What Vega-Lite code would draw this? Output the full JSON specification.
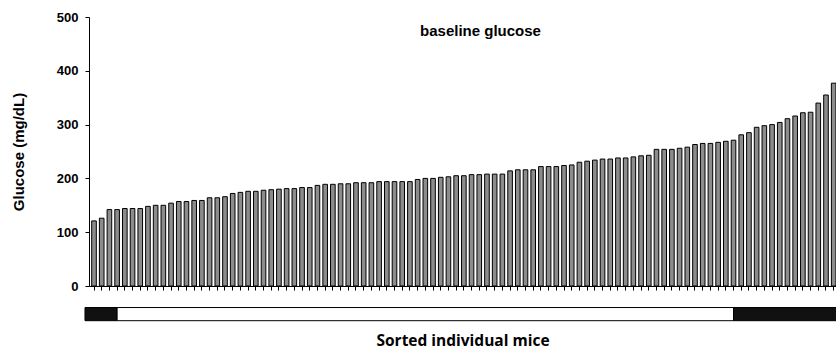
{
  "$schema": "https://vega.github.io/schema/vega-lite/v6.json",
  "autosize": {"type": "none"},
  "padding": {"left": 89, "top": 17, "right": 0, "bottom": 65},
  "width": 747,
  "height": 269,
  "title": {"text": "baseline glucose", "anchor": "middle", "offset": -28, "dx": 18, "fontSize": 15, "font": "Liberation Sans", "fontWeight": "bold", "color": "#000000"},
  "config": {
    "view": {"stroke": null},
    "axis": {"domainColor": "#000000", "tickColor": "#000000", "labelColor": "#000000", "titleColor": "#000000", "grid": false}
  },
  "layer": [
    {
      "data": {"values": [
        {"mouse": 1, "glucose": 121}, {"mouse": 2, "glucose": 126}, {"mouse": 3, "glucose": 142}, {"mouse": 4, "glucose": 142},
        {"mouse": 5, "glucose": 144}, {"mouse": 6, "glucose": 144}, {"mouse": 7, "glucose": 144}, {"mouse": 8, "glucose": 148},
        {"mouse": 9, "glucose": 150}, {"mouse": 10, "glucose": 150}, {"mouse": 11, "glucose": 154}, {"mouse": 12, "glucose": 157},
        {"mouse": 13, "glucose": 157}, {"mouse": 14, "glucose": 159}, {"mouse": 15, "glucose": 159}, {"mouse": 16, "glucose": 164},
        {"mouse": 17, "glucose": 164}, {"mouse": 18, "glucose": 166}, {"mouse": 19, "glucose": 172}, {"mouse": 20, "glucose": 174},
        {"mouse": 21, "glucose": 176}, {"mouse": 22, "glucose": 176}, {"mouse": 23, "glucose": 178}, {"mouse": 24, "glucose": 179},
        {"mouse": 25, "glucose": 180}, {"mouse": 26, "glucose": 181}, {"mouse": 27, "glucose": 181}, {"mouse": 28, "glucose": 183},
        {"mouse": 29, "glucose": 183}, {"mouse": 30, "glucose": 187}, {"mouse": 31, "glucose": 189}, {"mouse": 32, "glucose": 189},
        {"mouse": 33, "glucose": 190}, {"mouse": 34, "glucose": 190}, {"mouse": 35, "glucose": 192}, {"mouse": 36, "glucose": 192},
        {"mouse": 37, "glucose": 192}, {"mouse": 38, "glucose": 194}, {"mouse": 39, "glucose": 194}, {"mouse": 40, "glucose": 194},
        {"mouse": 41, "glucose": 194}, {"mouse": 42, "glucose": 194}, {"mouse": 43, "glucose": 198}, {"mouse": 44, "glucose": 200},
        {"mouse": 45, "glucose": 200}, {"mouse": 46, "glucose": 202}, {"mouse": 47, "glucose": 203}, {"mouse": 48, "glucose": 205},
        {"mouse": 49, "glucose": 205}, {"mouse": 50, "glucose": 207}, {"mouse": 51, "glucose": 207}, {"mouse": 52, "glucose": 208},
        {"mouse": 53, "glucose": 208}, {"mouse": 54, "glucose": 208}, {"mouse": 55, "glucose": 214}, {"mouse": 56, "glucose": 216},
        {"mouse": 57, "glucose": 216}, {"mouse": 58, "glucose": 216}, {"mouse": 59, "glucose": 222}, {"mouse": 60, "glucose": 222},
        {"mouse": 61, "glucose": 222}, {"mouse": 62, "glucose": 224}, {"mouse": 63, "glucose": 225}, {"mouse": 64, "glucose": 230},
        {"mouse": 65, "glucose": 232}, {"mouse": 66, "glucose": 234}, {"mouse": 67, "glucose": 236}, {"mouse": 68, "glucose": 236},
        {"mouse": 69, "glucose": 238}, {"mouse": 70, "glucose": 238}, {"mouse": 71, "glucose": 240}, {"mouse": 72, "glucose": 242},
        {"mouse": 73, "glucose": 243}, {"mouse": 74, "glucose": 254}, {"mouse": 75, "glucose": 254}, {"mouse": 76, "glucose": 254},
        {"mouse": 77, "glucose": 256}, {"mouse": 78, "glucose": 258}, {"mouse": 79, "glucose": 263}, {"mouse": 80, "glucose": 265},
        {"mouse": 81, "glucose": 265}, {"mouse": 82, "glucose": 267}, {"mouse": 83, "glucose": 269}, {"mouse": 84, "glucose": 271},
        {"mouse": 85, "glucose": 281}, {"mouse": 86, "glucose": 285}, {"mouse": 87, "glucose": 295}, {"mouse": 88, "glucose": 298},
        {"mouse": 89, "glucose": 300}, {"mouse": 90, "glucose": 304}, {"mouse": 91, "glucose": 311}, {"mouse": 92, "glucose": 316},
        {"mouse": 93, "glucose": 322}, {"mouse": 94, "glucose": 323}, {"mouse": 95, "glucose": 340}, {"mouse": 96, "glucose": 355},
        {"mouse": 97, "glucose": 377}
      ]},
      "mark": {"type": "bar", "fill": "#8c8c8c", "stroke": "#000000", "strokeWidth": 1},
      "encoding": {
        "x": {
          "field": "mouse", "type": "ordinal",
          "scale": {"paddingInner": 0.4, "paddingOuter": 0.175, "align": 1},
          "axis": {"labels": false, "tickSize": 4, "domainWidth": 1, "title": "Sorted individual mice", "titleFont": "Open Sans", "titleFontSize": 15.5, "titleFontWeight": "bold", "titlePadding": 43}
        },
        "y": {
          "field": "glucose", "type": "quantitative",
          "scale": {"domain": [0, 500], "nice": false},
          "axis": {"values": [0, 100, 200, 300, 400, 500], "tickSize": 4, "labelPadding": 7, "labelFont": "Liberation Sans", "labelFontSize": 13, "labelFontWeight": "bold", "title": "Glucose (mg/dL)", "titleFont": "Liberation Sans", "titleFontSize": 15, "titleFontWeight": "bold", "titlePadding": 30}
        }
      }
    },
    {
      "data": {"values": [
        {"from": -0.17, "to": 4, "group": "black"},
        {"from": 4, "to": 84, "group": "white"},
        {"from": 84, "to": 97.5, "group": "black"}
      ]},
      "mark": {"type": "rect", "stroke": "#000000", "strokeWidth": 1},
      "encoding": {
        "x": {"field": "from", "type": "quantitative", "scale": {"domain": [0.351, 97.3], "nice": false, "zero": false}, "axis": null},
        "x2": {"field": "to"},
        "y": {"datum": -40},
        "y2": {"datum": -64.5},
        "fill": {"field": "group", "type": "nominal", "scale": {"domain": ["black", "white"], "range": ["#111111", "#ffffff"]}, "legend": null}
      }
    }
  ],
  "resolve": {"scale": {"x": "independent"}}
}
